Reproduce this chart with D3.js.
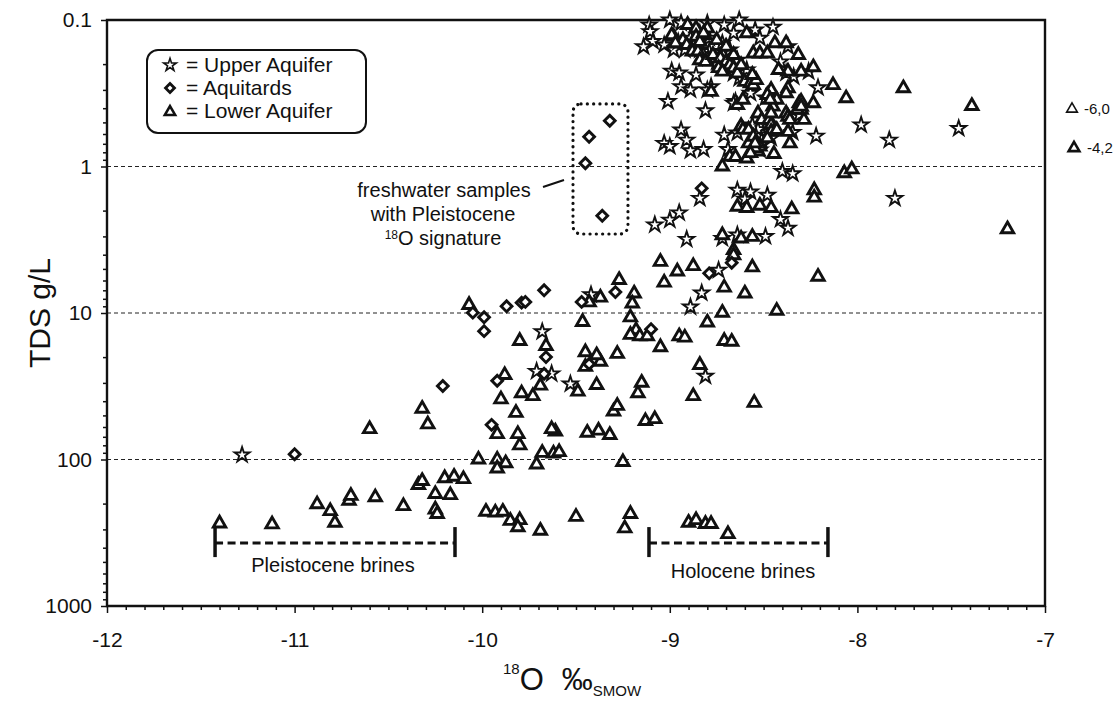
<!DOCTYPE html>
<html><head><meta charset="utf-8">
<script src="https://cdn.jsdelivr.net/npm/d3@7"></script>
<style>
body{margin:0;background:#fff;}
svg{display:block;font-family:Arial,"Liberation Sans",sans-serif;}
</style></head><body>
<svg id="c" width="1119" height="702"></svg>
<script>
// ---- data ----
const xTicks = [-12,-11,-10,-9,-8,-7];
const yTicks = [0.1,1,10,100,1000];
const yTickLabels = ["0.1","1","10","100","1000"];
const gridValues = [1,10,100];

const upperAquifer = [
[-11.28,93],[-9.71,25],[-9.63,26],[-9.53,30.5],[-9.68,13.4],[-9.42,7.5],[-8.89,9.1],[-8.81,27],[-8.83,7.3],[-8.74,5.1],
[-8.84,1.65],[-9.08,2.5],[-9.0,2.32],[-8.95,2.07],[-8.91,3.14],[-8.72,3.1],[-8.64,2.93],[-8.49,3.0],[-8.64,1.45],[-8.57,1.49],
[-8.48,1.57],[-8.60,1.67],[-8.41,2.3],[-8.37,2.64],[-7.80,1.65],[-8.40,1.08],[-8.345,1.12],[-8.89,0.78],[-8.82,0.765],[-9.03,0.695],
[-9.0,0.73],[-8.69,0.765],[-7.83,0.66],[-7.98,0.52],[-7.46,0.55],[-8.21,0.29],[-8.22,0.62],[-8.345,0.585],[-8.99,0.223],[-8.95,0.23],
[-8.86,0.237],[-8.94,0.285],[-8.89,0.30],[-8.80,0.30],[-9.01,0.36],[-8.81,0.416],[-8.65,0.36],[-8.57,0.316],[-9.11,0.108],[-9.105,0.12],
[-9.09,0.14],[-9.0,0.1],[-8.94,0.105],[-8.80,0.105],[-8.71,0.108],[-8.63,0.1],[-8.545,0.117],[-8.45,0.112],[-8.66,0.123],[-8.52,0.133],
[-9.03,0.148],[-8.98,0.16],[-8.84,0.16],[-8.70,0.169],[-8.79,0.164],[-8.37,0.152],[-8.41,0.193],[-8.34,0.244],[-8.49,0.34],[-8.52,0.52],
[-8.53,0.56],[-8.48,0.61],[-8.46,0.64],[-8.51,0.66],[-8.56,0.52],[-8.64,0.59],[-8.71,0.61],[-8.52,0.77],[-8.31,0.445],[-8.38,0.23],
[-8.26,0.225],[-8.78,0.285],[-8.94,0.563],[-8.91,0.66],[-8.66,0.37],
[-8.955,0.141],[-8.89,0.133],[-8.92,0.16],[-8.82,0.173],[-8.795,0.182],[-8.75,0.193],[-8.715,0.173],[-8.63,0.25],[-8.59,0.219],[-8.64,0.188],
[-8.68,0.16],[-8.72,0.144],[-8.79,0.133],[-8.84,0.123],[-9.14,0.152],[-8.66,0.231]
];

const aquitards = [
[-11.0,92],[-10.21,31.5],[-10.05,9.95],[-9.99,10.7],[-9.99,13.3],[-9.87,9.0],[-9.79,8.5],[-9.77,8.4],[-9.67,7.0],[-9.66,20],
[-9.67,26],[-9.92,29],[-9.95,58],[-9.47,8.4],[-9.29,7.2],[-9.43,22.3],[-9.10,12.9],[-8.79,5.36],[-8.67,4.54],
[-8.83,1.41],[-9.32,0.487],[-9.43,0.627],[-9.45,0.95],[-9.36,2.17]
];

const lowerAquifer = [
[-11.40,273],[-11.12,277],[-10.88,202],[-10.81,225],[-10.785,270],[-10.71,191],[-10.70,177],[-10.57,181],[-10.42,208],[-10.34,149],
[-10.32,140],[-10.25,172],[-10.25,219],[-10.24,235],[-10.20,134],[-10.15,131],[-10.10,136],[-10.17,175],[-9.98,227],[-10.02,100],
[-10.32,45],[-10.29,57.5],[-10.6,62],[-9.92,100],[-9.875,106],[-9.92,115],[-9.71,108],[-9.68,90],[-9.62,91],[-9.59,89],
[-9.25,104],[-9.93,230],[-9.89,227],[-9.85,262],[-9.80,259],[-9.81,290],[-9.69,306],[-9.50,246],[-9.21,235],[-9.24,295],
[-8.90,270],[-8.86,259],[-8.81,275],[-8.78,275],[-8.69,323],[-8.55,41],[-9.13,54.6],[-9.08,53],[-9.30,47],[-9.28,43],
[-9.32,68],[-9.38,63.5],[-9.44,65.6],[-9.61,64.5],[-9.63,62],[-9.80,80],[-9.81,67],[-9.92,67],[-9.82,48],[-9.90,38.8],
[-9.79,35.3],[-9.73,36.9],[-9.69,31.3],[-9.88,26.5],[-9.49,34.4],[-9.39,31],[-9.17,35.3],[-9.15,29.9],[-8.875,36.9],[-8.84,22.6],
[-9.45,23.3],[-9.37,21.5],[-9.45,18.5],[-9.39,19.4],[-9.28,19],[-10.07,8.8],[-9.80,15.5],[-9.66,16.8],[-9.465,11.5],[-9.43,8.45],
[-9.37,7.85],[-9.27,5.95],[-9.19,7.35],[-9.20,8.6],[-9.21,10.7],[-9.18,13.1],[-9.21,14.1],[-9.16,14.4],[-9.12,14.4],[-9.05,17.1],
[-9.05,4.47],[-8.96,5.2],[-8.875,4.78],[-9.03,6.2],[-8.95,14.4],[-8.92,14.7],[-8.56,4.88],[-8.21,5.65],[-8.71,6.7],[-8.60,7.35],
[-8.72,9.95],[-8.43,9.65],[-8.80,11.6],[-8.71,15.5],[-8.67,15.7],[-8.72,2.94],[-8.62,3.1],[-8.56,3.02],[-8.66,3.72],[-8.66,4.03],
[-8.64,1.88],[-8.59,1.92],[-8.52,1.85],[-8.46,1.92],[-8.35,1.96],[-8.23,1.45],[-8.23,1.63],[-8.07,1.11],[-8.03,1.045],[-7.20,2.68],
[-7.755,0.292],[-7.39,0.386],[-8.72,1.0],[-8.68,0.857],[-8.65,0.86],[-8.59,0.88],[-8.56,0.77],[-8.53,0.79],[-8.52,0.73],[-8.445,0.82],
[-8.36,0.695],[-8.58,0.695],[-8.545,0.75],[-8.62,0.53],[-8.61,0.56],[-8.58,0.56],[-8.555,0.626],[-8.53,0.434],[-8.51,0.48],[-8.47,0.48],
[-8.46,0.52],[-8.44,0.56],[-8.38,0.434],[-8.37,0.458],[-8.36,0.48],[-8.285,0.48],[-8.31,0.37],[-8.30,0.41],[-8.32,0.41],[-8.46,0.30],
[-8.43,0.35],[-8.45,0.39],[-8.48,0.325],[-8.465,0.35],[-8.37,0.292],[-8.38,0.316],[-8.30,0.36],[-8.235,0.37],[-8.30,0.225],[-8.37,0.225],
[-8.42,0.219],[-8.235,0.21],[-8.13,0.278],[-8.06,0.342],[-8.315,0.173],[-8.44,0.144],[-8.38,0.144],[-8.555,0.169],[-8.52,0.169],[-8.48,0.169],
[-8.59,0.123],[-8.905,0.108],[-8.80,0.114],[-8.64,0.38],[-8.61,0.35],[-8.78,0.309],
[-8.98,0.130],[-8.93,0.137],[-8.91,0.148],[-8.865,0.144],[-8.88,0.164],[-8.85,0.164],[-8.84,0.188],[-8.81,0.193],[-8.77,0.173],[-8.73,0.182],
[-8.70,0.193],[-8.68,0.203],[-8.66,0.213],[-8.64,0.231],[-8.60,0.264],[-8.57,0.27],[-8.555,0.278],[-8.54,0.257],[-8.56,0.237],[-8.62,0.203],
[-8.66,0.173],[-8.70,0.152],[-8.75,0.137],[-8.815,0.127],[-8.86,0.114],[-8.74,0.213],[-8.72,0.225],
[-8.99,0.127],[-8.97,0.144],[-8.86,0.130],[-8.84,0.141],[-8.82,0.123],
[-8.46,0.434],[-8.30,0.39],[-8.46,0.58],[-8.43,0.563],[-8.48,0.64],[-8.37,0.58],[-8.545,0.695],[-8.57,0.81]
];

const pleistoceneBrines = [-11.424,-10.145];
const holoceneBrines = [-9.111,-8.157];
const brineTDS = 372;
const freshBox = {x0:-9.516, x1:-9.223, y0:0.374, y1:2.89};

// ---- chart ----
const svg = d3.select("#c");
const L=107, R=1045, T=20, B=606;
const x = d3.scaleLinear().domain([-12,-7]).range([L,R]);
const y = d3.scaleLog().domain([0.1,1000]).range([T,B]);

// grid
svg.append("g").selectAll("line").data(gridValues).join("line")
  .attr("x1",L).attr("x2",R).attr("y1",d=>y(d)).attr("y2",d=>y(d))
  .attr("stroke","#222").attr("stroke-width",1).attr("stroke-dasharray","4,3");

// y axis
const yMinor = [];
[0.1,1,10,100].forEach(d=>{for(let k=2;k<=9;k++) yMinor.push(d*k);});
const yAll = yTicks.concat(yMinor);
const yAxis = svg.append("g").attr("transform",`translate(${L},0)`)
  .call(d3.axisLeft(y).tickValues(yAll).tickSize(6).tickPadding(9)
    .tickFormat(d=>{const i=yTicks.indexOf(d);return i>=0?yTickLabels[i]:"";}));
yAxis.select(".domain").remove();
yAxis.selectAll(".tick line").attr("stroke","#111").attr("stroke-width",1.5)
  .attr("x2",d=>yTicks.indexOf(d)>=0?-6:-4);
yAxis.selectAll("text").attr("font-size",21).attr("fill","#111");

// x axis
const xMinor = d3.range(-120,-69).map(v=>v/10);
const xAxis = svg.append("g").attr("transform",`translate(0,${B})`)
  .call(d3.axisBottom(x).tickValues(xMinor).tickSize(6).tickPadding(20)
    .tickFormat(d=>{const r=Math.round(d);return Math.abs(d-r)<1e-6&&xTicks.includes(r)?String(r):"";}));
xAxis.select(".domain").remove();
xAxis.selectAll(".tick line").attr("stroke","#111").attr("stroke-width",1.5)
  .attr("y2",d=>Math.abs(d-Math.round(d))<1e-6?7:4);
xAxis.selectAll("text").attr("font-size",21).attr("fill","#111");

// frame
svg.append("path").attr("d",`M${L},${T}H${R}V${B}H${L}Z`)
  .attr("fill","none").attr("stroke","#111").attr("stroke-width",2.4);

// markers
const sym = (type,size)=>d3.symbol().type(type).size(size)();
const g = svg.append("g");
g.selectAll(".up").data(upperAquifer).join("path").attr("class","up")
  .attr("d",sym(d3.symbolStar,70))
  .attr("transform",d=>`translate(${x(d[0])},${y(d[1])})`)
  .attr("fill","#fff").attr("stroke","#111").attr("stroke-width",1.9).attr("stroke-linejoin","miter");
g.selectAll(".lo").data(lowerAquifer).join("path").attr("class","lo")
  .attr("d",sym(d3.symbolTriangle,66))
  .attr("transform",d=>`translate(${x(d[0])},${y(d[1])})`)
  .attr("fill","#fff").attr("stroke","#111").attr("stroke-width",2.9);
g.selectAll(".aq").data(aquitards).join("path").attr("class","aq")
  .attr("d",sym(d3.symbolSquare,58))
  .attr("transform",d=>`translate(${x(d[0])},${y(d[1])}) rotate(45)`)
  .attr("fill","#fff").attr("stroke","#111").attr("stroke-width",2.9);

// legend
svg.append("rect").attr("x",147).attr("y",50).attr("width",219).attr("height",83).attr("rx",11)
  .attr("fill","#fff").attr("stroke","#111").attr("stroke-width",2);
const leg = [["star","= Upper Aquifer",65],["dia","= Aquitards",88],["tri","= Lower Aquifer",111]];
leg.forEach(([t,label,yy])=>{
  let p = svg.append("path");
  if(t==="star") p.attr("d",sym(d3.symbolStar,50)).attr("transform",`translate(170,${yy})`).attr("stroke-width",1.6);
  if(t==="dia") p.attr("d",sym(d3.symbolSquare,40)).attr("transform",`translate(170,${yy}) rotate(45)`).attr("stroke-width",2.8);
  if(t==="tri") p.attr("d",sym(d3.symbolTriangle,46)).attr("transform",`translate(170,${yy+1})`).attr("stroke-width",2.6);
  p.attr("fill","#fff").attr("stroke","#111");
  svg.append("text").attr("x",186).attr("y",yy+7).attr("font-size",21).attr("fill","#111").text(label);
});

// freshwater box + annotation
svg.append("rect").attr("x",x(freshBox.x0)).attr("y",y(freshBox.y0))
  .attr("width",x(freshBox.x1)-x(freshBox.x0)).attr("height",y(freshBox.y1)-y(freshBox.y0)).attr("rx",8)
  .attr("fill","none").attr("stroke","#111").attr("stroke-width",3.2)
  .attr("stroke-dasharray","0.1,6.2").attr("stroke-linecap","round");
svg.append("line").attr("x1",543).attr("y1",187).attr("x2",564).attr("y2",180)
  .attr("stroke","#111").attr("stroke-width",2);
const ann = svg.append("text").attr("text-anchor","middle").attr("font-size",20).attr("fill","#111");
ann.append("tspan").attr("x",444).attr("y",197).text("freshwater samples");
ann.append("tspan").attr("x",443).attr("y",221).text("with Pleistocene");
const t3 = ann.append("tspan").attr("x",443).attr("y",245);
t3.append("tspan").attr("font-size",12).attr("dy",-6).text("18");
t3.append("tspan").attr("dy",6).text("O signature");

// brines
function brine(range,label,lx,ly){
  const yy = y(brineTDS);
  svg.append("line").attr("x1",x(range[0])).attr("x2",x(range[1])).attr("y1",yy).attr("y2",yy)
    .attr("stroke","#111").attr("stroke-width",3).attr("stroke-dasharray","8,4.5");
  range.forEach(v=>svg.append("line").attr("x1",x(v)).attr("x2",x(v)).attr("y1",yy-16).attr("y2",yy+14)
    .attr("stroke","#111").attr("stroke-width",3.5));
  svg.append("text").attr("x",lx).attr("y",ly).attr("text-anchor","middle").attr("font-size",20)
    .attr("fill","#111").text(label);
}
brine(pleistoceneBrines,"Pleistocene brines",333,572);
brine(holoceneBrines,"Holocene brines",743,578);

// axis titles
svg.append("text").attr("transform","translate(50,313) rotate(-90)").attr("text-anchor","middle")
  .attr("font-size",30).attr("fill","#111").text("TDS  g/L");
const xt = svg.append("text").attr("x",503).attr("y",690).attr("font-size",31).attr("fill","#111");
xt.append("tspan").attr("font-size",15).attr("dy",-16).text("18");
xt.append("tspan").attr("dy",16).text("O");
xt.append("tspan").attr("dx",18).text("‰");
xt.append("tspan").attr("font-size",15).attr("dy",6).text("SMOW");

// right-side labels
svg.append("path").attr("d",sym(d3.symbolTriangle,50)).attr("transform","translate(1072,109)")
  .attr("fill","#fff").attr("stroke","#111").attr("stroke-width",1.6);
svg.append("text").attr("x",1084).attr("y",114).attr("font-size",15).attr("fill","#111").text("-6,0");
svg.append("path").attr("d",sym(d3.symbolTriangle,50)).attr("transform","translate(1074,148)")
  .attr("fill","#fff").attr("stroke","#111").attr("stroke-width",2.6);
svg.append("text").attr("x",1087).attr("y",153).attr("font-size",15).attr("fill","#111").text("-4,2");
</script>
</body></html>
